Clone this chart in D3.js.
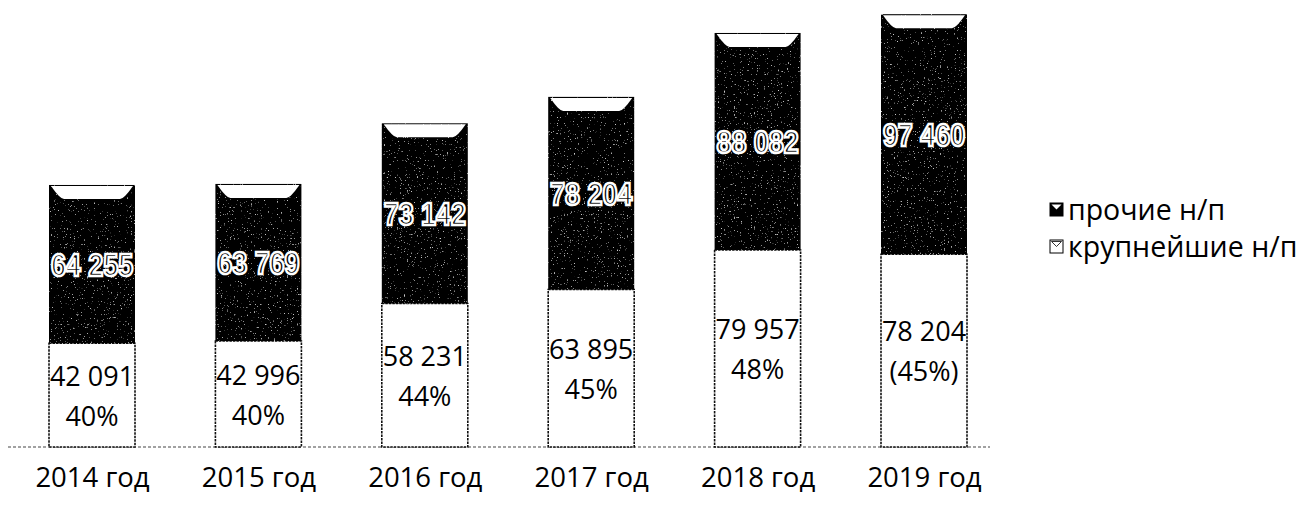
<!DOCTYPE html>
<html><head><meta charset="utf-8">
<script src="https://cdn.jsdelivr.net/npm/d3@7"></script>
<style>
html,body{margin:0;padding:0;background:#fff;}
svg{display:block;}
</style></head>
<body>
<svg id="chart" width="1299" height="505"></svg>
<script>
const categories = ["2014 год","2015 год","2016 год","2017 год","2018 год","2019 год"];
const largest = [42091, 42996, 58231, 63895, 79957, 78204];
const others = [64255, 63769, 73142, 78204, 88082, 97460];
const shareLabels = ["40%","40%","44%","45%","48%","(45%)"];
const seriesNames = ["прочие н/п","крупнейшие н/п"];

const svg = d3.select("#chart");
const defs = svg.append("defs");
const f = defs.append("filter").attr("id","noise").attr("x",0).attr("y",0).attr("width","100%").attr("height","100%");
f.append("feTurbulence").attr("type","fractalNoise").attr("baseFrequency","0.7").attr("numOctaves",2).attr("seed",4).attr("result","t");
f.append("feColorMatrix").attr("in","t").attr("type","matrix")
 .attr("values","0 0 0 0 0.6  0 0 0 0 0.6  0 0 0 0 0.6  6 0 0 0 -4.1").attr("result","dots");
f.append("feComposite").attr("in","dots").attr("in2","SourceAlpha").attr("operator","in").attr("result","d2");
const fm = f.append("feMerge");
fm.append("feMergeNode").attr("in","SourceGraphic");
fm.append("feMergeNode").attr("in","d2");

const x = d3.scalePoint().domain(categories).range([92, 924]);
const bw = 86;
const y = d3.scaleLinear().domain([0, 180000]).range([447, 3.5]);

const data = categories.map((c,i)=>({c, a: largest[i], b: others[i], p: shareLabels[i]}));
const stack = d3.stack().keys(["a","b"])(data);

// axis baseline + category labels
const xAxis = d3.axisBottom(x).tickSize(0).tickPadding(28);
const ax = svg.append("g").attr("transform","translate(0,447)").call(xAxis);
ax.select(".domain").remove();
ax.append("line").attr("x1",8).attr("x2",990).attr("y1",0).attr("y2",0)
  .attr("stroke","#444").attr("stroke-width",1.2).attr("stroke-dasharray","3,2");
ax.selectAll(".tick text").attr("font-family","'Open Sans', sans-serif").attr("font-size",27.5)
  .attr("fill","#000").attr("dy","0.42em");

// white (largest) segments
svg.append("g").selectAll("rect").data(stack[0]).join("rect")
  .attr("x", d=>x(d.data.c)-bw/2).attr("width", bw)
  .attr("y", d=>y(d[1])).attr("height", d=>y(d[0])-y(d[1]))
  .attr("fill","#fff").attr("stroke","#111").attr("stroke-width",1.6).attr("stroke-dasharray","2.5,1");

// dark (others) segments
svg.append("g").selectAll("rect").data(stack[1]).join("rect")
  .attr("x", d=>x(d.data.c)-bw/2).attr("width", bw)
  .attr("y", d=>y(d[1])).attr("height", d=>y(d[0])-y(d[1]))
  .attr("fill","#030303").attr("filter","url(#noise)");

// bevel caps on dark segments
const capH = 13, capIn = 13;
svg.append("g").selectAll("path").data(stack[1]).join("path")
  .attr("d", d=>{
    const l = x(d.data.c)-bw/2+2, r = x(d.data.c)+bw/2-2, t = y(d[1])+1;
    return `M${l},${t} L${r},${t} Q${r-capIn+4},${t+capH} ${r-capIn},${t+capH} L${l+capIn},${t+capH} Q${l+capIn-4},${t+capH} ${l},${t} Z`;
  })
  .attr("fill","#fff");

// labels on dark segments
svg.append("g").selectAll("text").data(stack[1]).join("text")
  .attr("transform", d=>`translate(${x(d.data.c)},${(y(d[0])+y(d[1]))/2}) scale(0.84,1)`)
  .attr("text-anchor","middle").attr("dy","0.36em")
  .attr("font-family","'Liberation Sans', Arial, sans-serif").attr("font-weight","bold").attr("font-size",32)
  .attr("fill","#000").attr("stroke","#fff").attr("stroke-width",2.6)
  .text(d=>d3.format(",")(d.data.b).replace(/,/g," "));

// labels on white segments
const wl = svg.append("g").selectAll("g").data(stack[0]).join("g")
  .attr("transform", d=>`translate(${x(d.data.c)},${(y(d[0])+y(d[1]))/2})`);
wl.append("text").attr("text-anchor","middle").attr("y",-19).attr("dy","0.36em")
  .attr("font-family","'Open Sans', sans-serif").attr("font-size",27).attr("fill","#000")
  .text(d=>d3.format(",")(d.data.a).replace(/,/g," "));
wl.append("text").attr("text-anchor","middle").attr("y",21).attr("dy","0.36em")
  .attr("font-family","'Open Sans', sans-serif").attr("font-size",27).attr("fill","#000")
  .text(d=>d.data.p);

// legend
const lg = svg.append("g").attr("transform","translate(1050,210)");
const items = lg.selectAll("g").data(seriesNames).join("g").attr("transform",(d,i)=>`translate(0,${i*37})`);
items.append("rect").attr("x",0).attr("y",-7).attr("width",13).attr("height",13)
  .attr("fill",(d,i)=>i===0?"#000":"#fff").attr("stroke","#000").attr("stroke-width",1);
items.append("path").attr("d","M1.5,-5.5 L11.5,-5.5 L6.5,-0.5 Z")
  .attr("fill",(d,i)=>i===0?"#fff":"none").attr("stroke",(d,i)=>i===0?"none":"#000").attr("stroke-width",0.8);
items.append("text").attr("x",18).attr("dy","0.34em")
  .attr("font-family","'Open Sans', sans-serif").attr("font-size",28.5).attr("fill","#000")
  .text(d=>d);
</script>
</body></html>
